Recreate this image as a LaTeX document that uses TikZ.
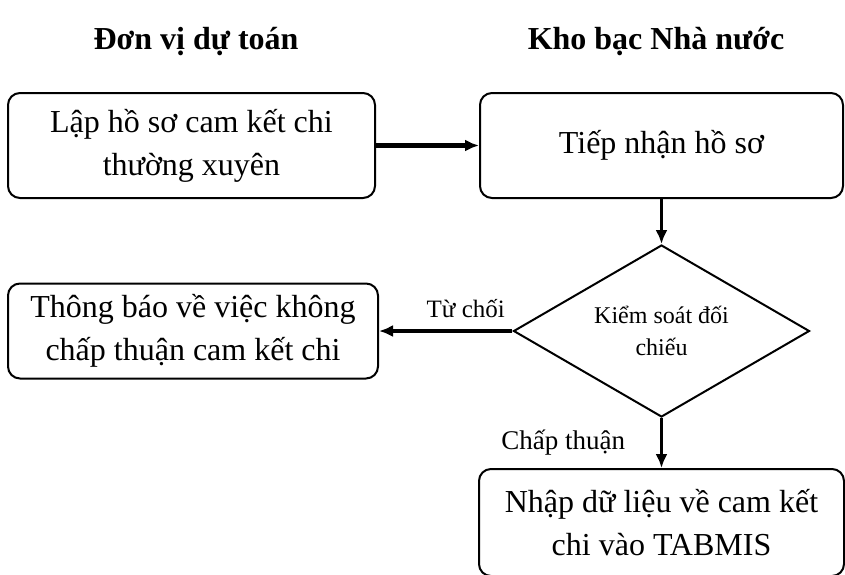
\documentclass[tikz,border=0pt]{standalone}
\usepackage{fontspec}
\setmainfont{Liberation Serif}
\usetikzlibrary{positioning,arrows.meta,shapes.geometric}

\begin{document}
\begin{tikzpicture}[align=center,
    box/.style={draw, line width=1pt, rounded corners=6pt, font=\fontsize{16}{21.5}\selectfont},
    decision/.style={draw, diamond, aspect=1.72, line width=1pt, minimum width=148pt, minimum height=86pt, inner sep=0pt, font=\fontsize{12}{16}\selectfont},
    title/.style={font=\fontsize{16}{18}\selectfont\bfseries},
    flow/.style={-{Latex[length=7pt,width=6pt]}, line width=1.8pt}]
    \useasboundingbox (0,0) rectangle (422.5pt,-287pt);

    % column headings
    \node [title] (donvi) at (98pt,-21pt) {Đơn vị dự toán};
    \node [title] (khobac) at (328pt,-21pt) {Kho bạc Nhà nước};

    \node [box, minimum width=183.5pt, minimum height=52.5pt] (lap) at (95.75pt,-72.75pt) {Lập hồ sơ cam kết chi\\thường xuyên};
    \node [box, right=51.5pt of lap, minimum width=181.5pt, minimum height=52.5pt] (tiepnhan) {Tiếp nhận hồ sơ};

    \node [decision, below=22.5pt of tiepnhan] (kiemsoat) {Kiểm soát đối\\chiếu};

    \node [box, left=66.75pt of kiemsoat, minimum width=185pt, minimum height=47.5pt] (thongbao) {Thông báo về việc không\\chấp thuận cam kết chi};
    \node [box, below=25pt of kiemsoat, minimum width=182.5pt, minimum height=53.5pt] (nhap) {Nhập dữ liệu về cam kết\\chi vào TABMIS};

    \draw[flow, line width=2.2pt] (lap) -- (tiepnhan);
    \draw[flow] (tiepnhan) -- (kiemsoat);
    \draw[flow, line width=2.2pt] (kiemsoat) -- node[pos=0.35, above=2pt, font=\fontsize{12.5}{14}\selectfont] {Từ chối} (thongbao);
    \draw[flow] (kiemsoat) -- node[left=14pt, font=\fontsize{13.5}{16}\selectfont] {Chấp thuận} (nhap);

\end{tikzpicture}
\end{document}
